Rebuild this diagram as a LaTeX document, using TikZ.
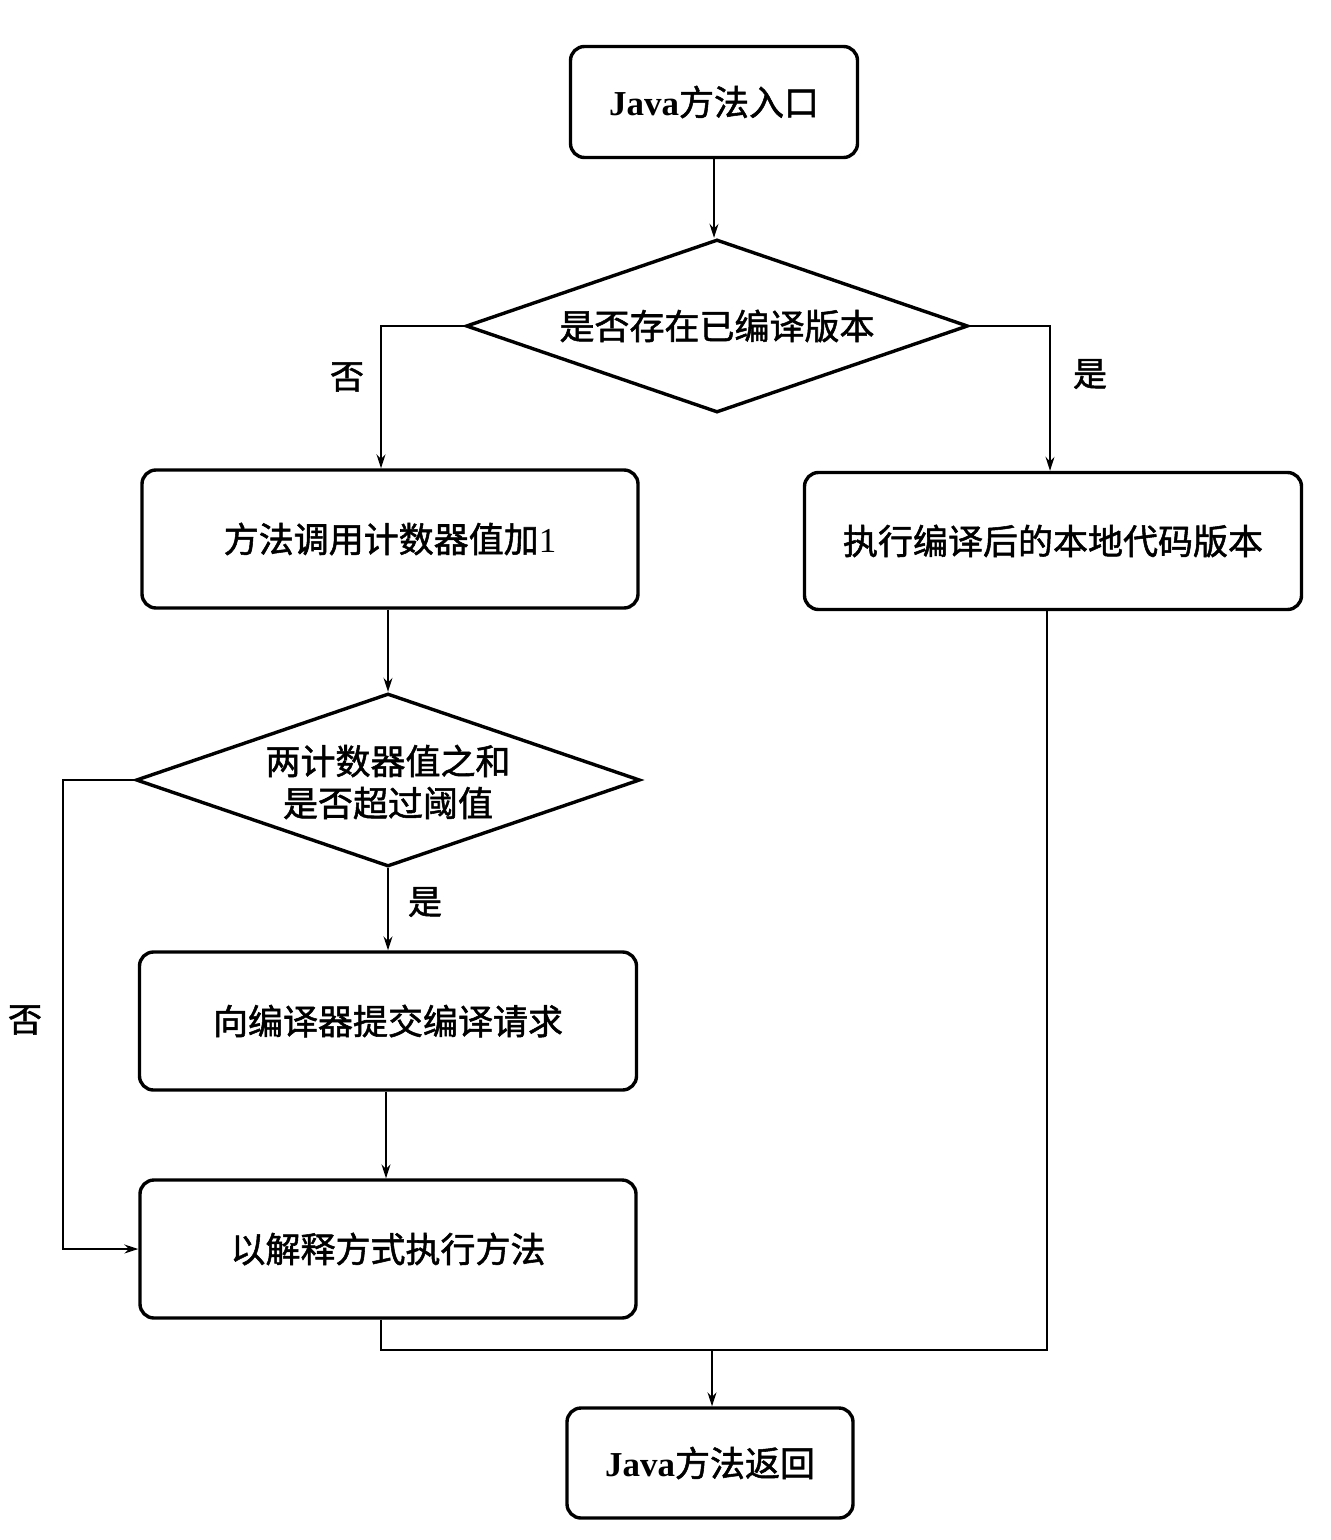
\documentclass[tikz,border=0pt]{standalone}
\usepackage{fontspec}
\setmainfont{Liberation Serif}
\newfontfamily\cjk[FakeBold=1.5]{Noto Sans CJK SC}
\usetikzlibrary{shapes.geometric,arrows.meta,calc}
\begin{document}
\begin{tikzpicture}[x=0.5pt,y=-0.5pt,
  box/.style={draw, line width=1.7pt, rounded corners=7pt, inner sep=0pt, font=\fontsize{17.5}{22}\selectfont\cjk},
  dia/.style={draw, line width=1.7pt, diamond, inner sep=0pt},
  dtext/.style={font=\fontsize{17.5}{21}\selectfont\cjk, align=center},
  lbl/.style={font=\fontsize{17}{20}\selectfont\cjk},
  conn/.style={line width=0.8pt},
  arr/.style={conn, -{Stealth[length=7pt,width=4.5pt]}}
]
\useasboundingbox (0,0) rectangle (1330,1540);
\node[box, minimum width=143.5pt, minimum height=55.5pt] (start) at (714,102) {{\rmfamily\bfseries Java}方法入口};
\node[dia, minimum width=251pt, minimum height=86.5pt] (d1) at (717,326) {};
\node[dtext] (t1) at (d1.center) {是否存在已编译版本};
\node[box, minimum width=248pt, minimum height=69pt] (L1) at (390,539) {方法调用计数器值加{\rmfamily 1}};
\node[box, minimum width=248.5pt, minimum height=68.5pt] (R1) at (1053,541) {执行编译后的本地代码版本};
\node[dia, minimum width=252pt, minimum height=86.5pt] (d2) at (388,780) {};
\node[dtext] (t2) at ([yshift=-1pt]d2.center) {两计数器值之和\\是否超过阈值};
\node[box, minimum width=248.5pt, minimum height=69pt] (B3) at (388,1021) {向编译器提交编译请求};
\node[box, minimum width=248pt, minimum height=69pt] (B4) at (388,1249) {以解释方式执行方法};
\node[box, minimum width=143pt, minimum height=55pt] (end) at (710,1463) {{\rmfamily\bfseries Java}方法返回};

\node[lbl] (no1) at (347,377) {否};
\node[lbl] (yes1) at (1090,374) {是};
\node[lbl] (yes2) at (425,902) {是};
\node[lbl] (no2) at (25,1020) {否};

\coordinate (c1) at (63,1000);
\coordinate (m) at (712,1350);

\draw[arr] (start.south) -- (start.south |- d1.north);
\draw[arr] (d1.west) -| ([xshift=-4.5pt]L1.north);
\draw[arr] (d1.east) -| ([xshift=-1.5pt]R1.north);
\draw[arr] ([xshift=-1pt]L1.south) -- ([xshift=-1pt]L1.south |- d2.north);
\draw[arr] (d2.south) -- (B3.north);
\draw[arr] ([xshift=-1pt]B3.south) -- ([xshift=-1pt]B4.north);
\draw[arr] (d2.west) -| (c1) |- (B4.west);
\draw[conn] ([xshift=-3.5pt]B4.south) |- (m) -| ([xshift=-3pt]R1.south);
\draw[arr] (m) -- (m |- end.north);
\end{tikzpicture}
\end{document}
